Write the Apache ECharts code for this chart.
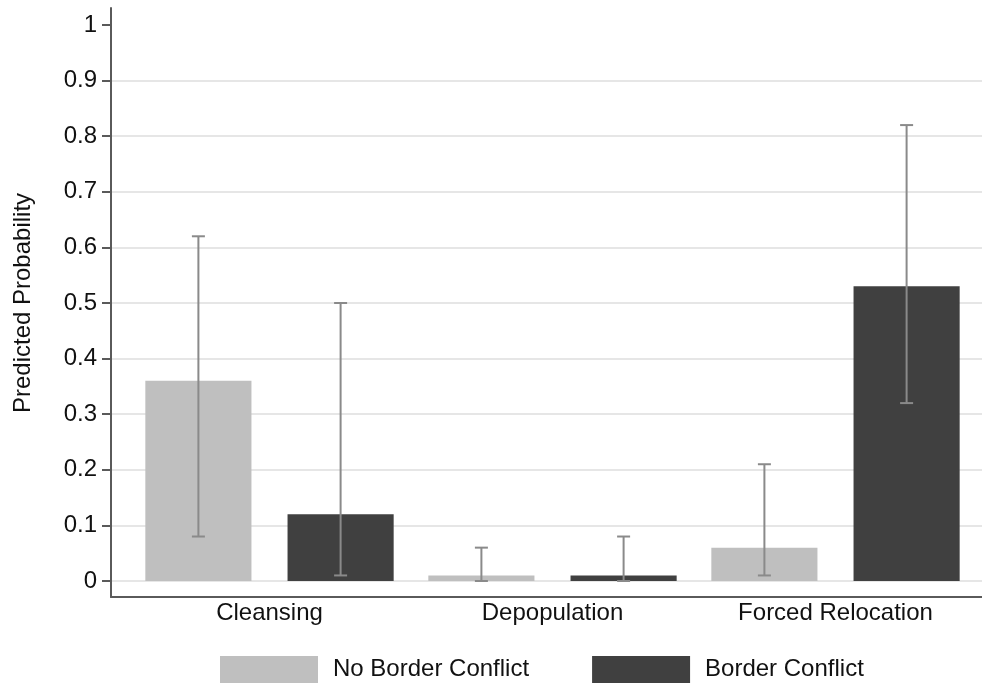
<!DOCTYPE html>
<html>
<head>
<meta charset="utf-8">
<title>Predicted Probability by Border Conflict</title>
<script src="https://cdn.jsdelivr.net/npm/echarts@6/dist/echarts.min.js"></script>
<style>
  html, body { margin: 0; padding: 0; background: #ffffff; }
  #chart { width: 982px; height: 689px; }
</style>
</head>
<body>
<div id="chart"></div>
<script>
// Outcome categories
const categories = ['Cleansing', 'Depopulation', 'Forced Relocation'];

// Predicted probabilities with confidence intervals
const noBorder     = [0.36, 0.01, 0.06];
const noBorderLow  = [0.08, 0.00, 0.01];
const noBorderHigh = [0.62, 0.06, 0.21];

const border     = [0.12, 0.01, 0.53];
const borderLow  = [0.01, 0.00, 0.32];
const borderHigh = [0.50, 0.08, 0.82];

// Y axis tick labels
const yTicks = ['0', '0.1', '0.2', '0.3', '0.4', '0.5', '0.6', '0.7', '0.8', '0.9', '1'];

const FONT = '"Liberation Sans", Arial, Helvetica, sans-serif';
const BAR_FRAC = 0.375;   // bar width as share of the category band
const GAP_FRAC = 0.34;    // gap between the paired bars, as share of bar width

function intervalRows(low, high) {
  return categories.map((c, i) => [i, low[i], high[i]]);
}

function errorBarRenderer(side) {
  return function (params, api) {
    const idx = api.value(0);
    const lo = api.coord([idx, api.value(1)]);
    const hi = api.coord([idx, api.value(2)]);
    const band = api.size([1, 0])[0];
    const barW = band * BAR_FRAC;
    const x = lo[0] + side * (barW + barW * GAP_FRAC) / 2;
    const cap = 6.5;
    const style = { stroke: '#8a8a8a', lineWidth: 2 };
    return {
      type: 'group',
      children: [
        { type: 'line', shape: { x1: x, y1: hi[1], x2: x, y2: lo[1] }, style: style },
        { type: 'line', shape: { x1: x - cap, y1: hi[1], x2: x + cap, y2: hi[1] }, style: style },
        { type: 'line', shape: { x1: x - cap, y1: lo[1], x2: x + cap, y2: lo[1] }, style: style }
      ]
    };
  };
}

const chart = echarts.init(document.getElementById('chart'), null, { renderer: 'canvas' });

chart.setOption({
  backgroundColor: '#ffffff',
  animation: false,
  textStyle: { fontFamily: FONT },
  grid: [
    // scale grid: ticks, labels, gridlines
    { left: 111, right: 0, top: 25, bottom: 108 },
    // frame grid: outer axis lines
    { left: 111, right: 0, top: 8, bottom: 92 },
    // bar grid
    { left: 128, right: 5, top: 25, bottom: 108 }
  ],
  legend: {
    left: 220,
    top: 656,
    padding: 0,
    itemWidth: 98,
    itemHeight: 27,
    itemGap: 63,
    icon: 'rect',
    data: ['No Border Conflict', 'Border Conflict'],
    textStyle: {
      fontFamily: FONT,
      fontSize: 24,
      color: '#111',
      padding: [0, 0, 0, 10]
    }
  },
  xAxis: [
    { gridIndex: 0, type: 'value', min: 0, max: 1, show: false },
    {
      gridIndex: 1, type: 'value', min: 0, max: 1,
      axisLine: { show: true, lineStyle: { color: '#5a5a5a', width: 2 } },
      axisTick: { show: false }, axisLabel: { show: false }, splitLine: { show: false }
    },
    {
      gridIndex: 2, type: 'category', data: categories,
      axisLine: { show: false }, axisTick: { show: false },
      axisLabel: { margin: 20, fontSize: 24, color: '#111', fontFamily: FONT, interval: 0 }
    }
  ],
  yAxis: [
    {
      gridIndex: 0, type: 'value', min: 0, max: 1, interval: 0.1,
      name: 'Predicted Probability',
      nameLocation: 'middle',
      nameGap: 76,
      nameTextStyle: { fontSize: 24, color: '#111', fontFamily: FONT },
      axisLine: { show: false },
      axisTick: { show: true, inside: false, length: 9, lineStyle: { color: '#5a5a5a', width: 2 } },
      axisLabel: {
        margin: 14, fontSize: 24, color: '#111', fontFamily: FONT,
        formatter: (v) => yTicks[Math.round(v * 10)]
      },
      splitLine: { show: true, showMaxLine: false, lineStyle: { color: '#e6e6e6', width: 2 } }
    },
    {
      gridIndex: 1, type: 'value', min: 0, max: 1,
      axisLine: { show: true, lineStyle: { color: '#5a5a5a', width: 2 } },
      axisTick: { show: false }, axisLabel: { show: false }, splitLine: { show: false }
    },
    { gridIndex: 2, type: 'value', min: 0, max: 1, show: false }
  ],
  series: [
    {
      name: 'No Border Conflict',
      type: 'bar',
      xAxisIndex: 2, yAxisIndex: 2,
      data: noBorder,
      barWidth: (BAR_FRAC * 100) + '%',
      barGap: (GAP_FRAC * 100) + '%',
      itemStyle: { color: '#bfbfbf' }
    },
    {
      name: 'Border Conflict',
      type: 'bar',
      xAxisIndex: 2, yAxisIndex: 2,
      data: border,
      barWidth: (BAR_FRAC * 100) + '%',
      barGap: (GAP_FRAC * 100) + '%',
      itemStyle: { color: '#404040' }
    },
    {
      type: 'custom',
      xAxisIndex: 2, yAxisIndex: 2,
      z: 5,
      renderItem: errorBarRenderer(-1),
      data: intervalRows(noBorderLow, noBorderHigh),
      silent: true
    },
    {
      type: 'custom',
      xAxisIndex: 2, yAxisIndex: 2,
      z: 5,
      renderItem: errorBarRenderer(1),
      data: intervalRows(borderLow, borderHigh),
      silent: true
    }
  ]
});
</script>
</body>
</html>
